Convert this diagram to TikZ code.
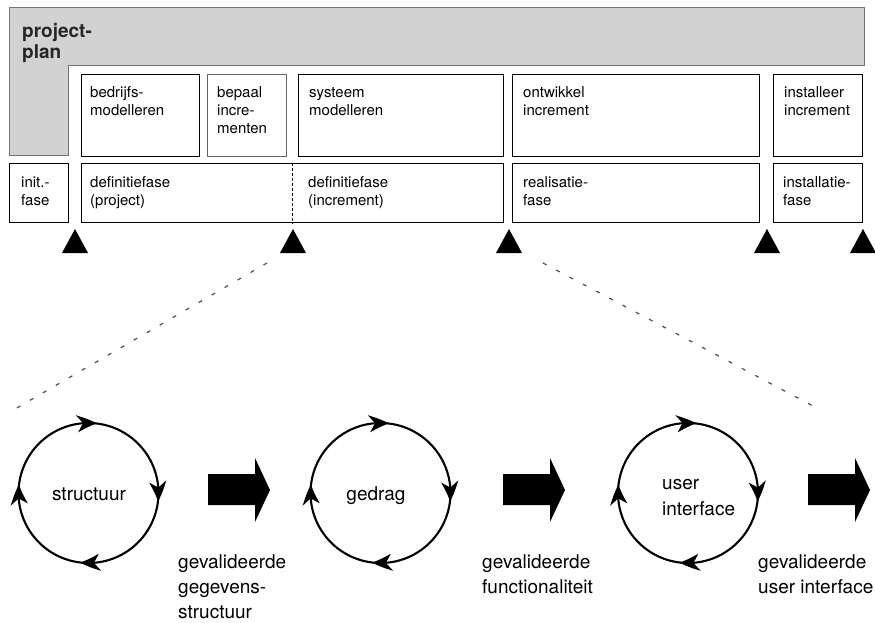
\documentclass[tikz,border=0pt]{standalone}
\usepackage{fontspec}
\setmainfont{TeX Gyre Heros}
\usetikzlibrary{arrows.meta,bending}
\newcommand\boxfont{\fontsize{15}{18}\selectfont}
\newcommand\bigfont{\fontsize{19}{25}\selectfont}
\newcommand\planfont{\fontsize{19}{21}\selectfont\bfseries}
\newcommand\smallstrut{\rule{0pt}{11pt}}
\newcommand\bigstrut{\rule{0pt}{14pt}}
\begin{document}
\begin{tikzpicture}[x=1pt,y=-1pt,
  stagebox/.style={draw=black, line width=1.2pt, inner sep=0pt, anchor=north west,
    minimum height=#1},
  boxtext/.style={anchor=north west, inner sep=0pt, align=left, font=\boxfont},
  bigtext/.style={anchor=north west, inner sep=0pt, align=left, font=\bigfont},
  milestone/.style={fill=black},
  zoomline/.style={draw=black!70, line width=1.2pt, dash pattern=on 4pt off 11pt},
  loopnode/.style={circle, inner sep=0pt, minimum size=140pt},
  looparc/.style={line width=2.1pt,
    -{Stealth[length=20pt,width=17pt,inset=6pt,bend]}},
  bigarrow/.pic={\fill (0,-16) -- (47,-16) -- (47,-32) -- (62,0) -- (47,32) -- (47,15) -- (0,15) -- cycle;}
]
\useasboundingbox (0,0) rectangle (875,622);

% project plan band
\filldraw[fill=gray!35, draw=black!55, line width=1pt]
  (9,7) -- (864,7) -- (864,65) -- (68,65) -- (68,155) -- (9,155) -- cycle;
\node[anchor=north west, inner sep=0pt, align=left, font=\planfont, text=black!85] (plan) at (22,23)
  {\bigstrut project-\\plan};

% activity boxes
\node[stagebox=82pt, minimum width=118pt] (bm) at (81,74) {};
\node[stagebox=82pt, minimum width=79pt, draw=black!60] (bi) at (207,74) {};
\node[stagebox=82pt, minimum width=205pt] (sm) at (298,74) {};
\node[stagebox=82pt, minimum width=247pt] (oi) at (512,74) {};
\node[stagebox=82pt, minimum width=89pt] (ii) at (773,74) {};
\node[boxtext] (bmt) at (90,86) {\smallstrut bedrijfs-\\modelleren};
\node[boxtext] (bit) at (217,86) {\smallstrut bepaal\\incre-\\menten};
\node[boxtext] (smt) at (309,86) {\smallstrut systeem\\modelleren};
\node[boxtext] (oit) at (523,86) {\smallstrut ontwikkel\\increment};
\node[boxtext] (iit) at (784,86) {\smallstrut installeer\\increment};

% phase boxes
\node[stagebox=59pt, minimum width=59pt] (init) at (9,163) {};
\node[stagebox=59pt, minimum width=422pt] (def) at (81,163) {};
\node[stagebox=59pt, minimum width=247pt] (real) at (512,163) {};
\node[stagebox=59pt, minimum width=89pt] (inst) at (773,163) {};
\draw[line width=0.8pt, dash pattern=on 3pt off 2pt]
  ([xshift=211pt]def.north west) -- ([xshift=211pt]def.south west);
\node[boxtext] (initt) at (21,176) {\smallstrut init.-\\fase};
\node[boxtext] (deft) at (90,176) {\smallstrut definitiefase\\(project)};
\node[boxtext] (def2t) at (308,176) {\smallstrut definitiefase\\(increment)};
\node[boxtext] (realt) at (523,176) {\smallstrut realisatie-\\fase};
\node[boxtext] (instt) at (783,176) {\smallstrut installatie-\\fase};

% milestones
\foreach \x in {75,293,509,767,863}
  \fill[milestone] (\x,229) -- ++(13,24) -- ++(-26,0) -- cycle;

% zoom lines
\coordinate (zla) at (267,263);
\coordinate (zlb) at (15,409);
\coordinate (zra) at (543,263);
\coordinate (zrb) at (813,406);
\draw[zoomline] (zla) -- (zlb);
\draw[zoomline] (zra) -- (zrb);

% iteration cycles
\node[loopnode] (c1) at (88.5,493) {};
\node[loopnode] (c2) at (380.5,493) {};
\node[loopnode] (c3) at (688,493) {};
\foreach \c in {c1,c2,c3}{
  \draw[looparc] (\c.center) ++(-175:70) arc[start angle=-175, end angle=-83, radius=70];
  \draw[looparc] (\c.center) ++(-85:70) arc[start angle=-85, end angle=7, radius=70];
  \draw[looparc] (\c.center) ++(5:70) arc[start angle=5, end angle=97, radius=70];
  \draw[looparc] (\c.center) ++(95:70) arc[start angle=95, end angle=187, radius=70];
}
\node[anchor=base, inner sep=0pt, font=\bigfont] (c1t) at (89,500) {structuur};
\node[anchor=base, inner sep=0pt, font=\bigfont] (c2t) at (376,500) {gedrag};
\node[bigtext] (c3t) at (662,475) {\bigstrut user\\[1pt]interface};

% results
\pic at (208,490) {bigarrow};
\pic at (503,490) {bigarrow};
\pic at (808,490) {bigarrow};
\node[bigtext] (r1) at (178,554) {\bigstrut gevalideerde\\gegevens-\\structuur};
\node[bigtext] (r2) at (482,554) {\bigstrut gevalideerde\\functionaliteit};
\node[bigtext] (r3) at (758,554) {\bigstrut gevalideerde\\user interface};
\end{tikzpicture}
\end{document}
